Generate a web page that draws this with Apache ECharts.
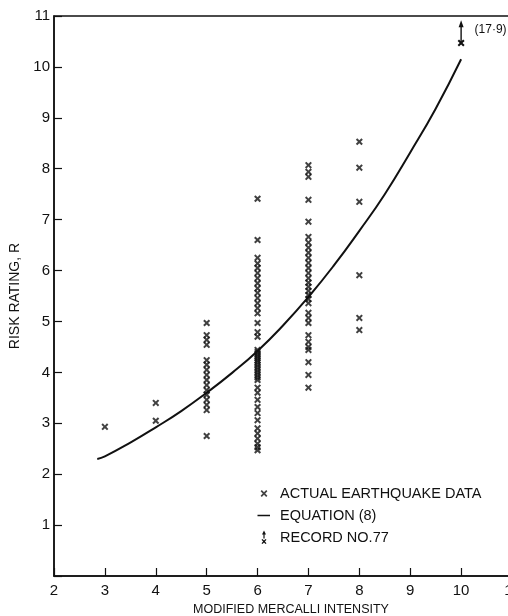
<!DOCTYPE html>
<html>
<head>
<meta charset="utf-8">
<script src="https://cdn.jsdelivr.net/npm/echarts@6/dist/echarts.min.js"></script>
<style>
  html, body { margin: 0; padding: 0; background: #fff; }
  #chart { width: 508px; height: 616px; }
</style>
</head>
<body>
<div id="chart"></div>
<script>
// observed risk ratings per Mercalli intensity
const mmi3 = [2.93];
const mmi4 = [3.4, 3.05];
const mmi5 = [4.97, 4.73, 4.64, 4.54, 4.24, 4.15, 4.05, 3.95, 3.85, 3.75, 3.65, 3.56, 3.46, 3.36, 3.26, 2.75];
const mmi6 = [7.41, 6.6, 6.25, 6.14, 6.05, 5.95, 5.85, 5.75, 5.65, 5.56, 5.46, 5.36, 5.26, 5.16, 4.97, 4.79, 4.7,
  4.44, 4.4, 4.36, 4.32, 4.28, 4.24, 4.2, 4.15, 4.1, 4.05, 4.0, 3.95, 3.9, 3.85,
  3.7, 3.6, 3.46, 3.32, 3.2, 3.06, 2.9, 2.8, 2.7, 2.6, 2.53, 2.47];
const mmi7 = [8.07, 7.94, 7.84, 7.39, 6.96, 6.66, 6.55, 6.45, 6.35, 6.25, 6.15, 6.05, 5.95, 5.85, 5.76,
  5.68, 5.6, 5.52, 5.44, 5.36, 5.17, 5.07, 4.97, 4.73, 4.6, 4.5, 4.44, 4.2, 3.95, 3.7];
const mmi8 = [8.53, 8.02, 7.35, 5.91, 5.07, 4.83];

// equation (8) curve
const eqX = [2.85, 3, 3.5, 4, 4.5, 5, 5.5, 6, 6.5, 7, 7.5, 8, 8.5, 9, 9.5, 10];
const eqR = [2.3, 2.35, 2.62, 2.92, 3.24, 3.6, 3.99, 4.42, 4.92, 5.48, 6.1, 6.78, 7.5, 8.32, 9.18, 10.15];

// record no. 77 (true value 17.9, off scale)
const recordX = 10;
const recordR = 10.47;
const recordArrowTop = 10.85;

const columns = [[3, mmi3], [4, mmi4], [5, mmi5], [6, mmi6], [7, mmi7], [8, mmi8]];
const quakeData = [];
columns.forEach(c => c[1].forEach(r => quakeData.push([c[0], r])));

const crossPath = 'path://M0,2L2,0L5,3L8,0L10,2L7,5L10,8L8,10L5,7L2,10L0,8L3,5Z';
// legend icons padded out to a 14x14 box with tiny corner dots
const pad = 'M0,0L0.01,0L0,0.01ZM14,14L13.99,14L14,13.99Z';
const legendCross = 'path://' + pad + 'M3.6,4.8L4.8,3.6L7,5.8L9.2,3.6L10.4,4.8L8.2,7L10.4,9.2L9.2,10.4L7,8.2L4.8,10.4L3.6,9.2L5.8,7Z';
const legendLine = 'path://' + pad + 'M0.5,6.3L13,6.3L13,7.7L0.5,7.7Z';
const legendRecord = 'path://' + pad + 'M5,4L7,0L9,4L7.6,4L7.6,8L6.4,8L6.4,4ZM4.5,9.3L5.5,8.5L7,10L8.5,8.5L9.5,9.3L7.9,11L9.5,12.7L8.5,13.5L7,12L5.5,13.5L4.5,12.7L6.1,11Z';
const ink = '#111';
const font = 'Liberation Sans';

const chart = echarts.init(document.getElementById('chart'));
chart.setOption({
  animation: false,
  backgroundColor: '#fff',
  grid: {
    left: 54, top: 16, width: 458, height: 560,
    outerBoundsMode: 'none', containLabel: false,
    show: true, borderColor: ink, borderWidth: 1.5
  },
  legend: {
    orient: 'vertical',
    left: 252,
    top: 481,
    itemGap: 7,
    itemWidth: 14,
    itemHeight: 14,
    selectedMode: false,
    textStyle: { color: ink, fontFamily: font, fontSize: 14.5, padding: [0, 0, 0, 4] },
    data: [
      { name: 'ACTUAL EARTHQUAKE DATA', icon: legendCross, itemStyle: { color: ink } },
      { name: 'EQUATION (8)', icon: legendLine, itemStyle: { color: ink } },
      { name: 'RECORD NO.77', icon: legendRecord, itemStyle: { color: ink } }
    ]
  },
  xAxis: {
    type: 'value', min: 2, max: 11, interval: 1,
    name: 'MODIFIED MERCALLI INTENSITY', nameLocation: 'middle', nameGap: 27,
    nameTextStyle: { color: ink, fontFamily: font, fontSize: 12.5, padding: [0, 0, 0, 16] },
    axisLine: { lineStyle: { color: ink, width: 1.5 } },
    axisTick: { inside: true, length: 8, lineStyle: { color: ink, width: 1.2 } },
    axisLabel: { color: ink, fontFamily: font, fontSize: 15, margin: 7, showMaxLabel: true },
    splitLine: { show: false }
  },
  yAxis: {
    type: 'value', min: 0, max: 11, interval: 1,
    name: 'RISK RATING, R', nameLocation: 'middle', nameGap: 27,
    nameTextStyle: { color: ink, fontFamily: font, fontSize: 14 },
    axisLine: { lineStyle: { color: ink, width: 1.5 } },
    axisTick: { inside: true, length: 8, lineStyle: { color: ink, width: 1.2 } },
    axisLabel: { color: ink, fontFamily: font, fontSize: 15, margin: 4, formatter: v => (v === 0 ? '' : v) },
    splitLine: { show: false }
  },
  series: [
    {
      name: 'ACTUAL EARTHQUAKE DATA', type: 'scatter',
      symbol: crossPath, symbolSize: 7,
      itemStyle: { color: ink },
      data: quakeData
    },
    {
      name: 'EQUATION (8)', type: 'line', smooth: true, showSymbol: false,
      lineStyle: { color: ink, width: 2 },
      itemStyle: { color: ink },
      data: eqX.map((x, i) => [x, eqR[i]])
    },
    {
      name: 'RECORD NO.77', type: 'line',
      lineStyle: { color: ink, width: 1.4 },
      itemStyle: { color: ink },
      data: [
        { value: [recordX, recordR], symbol: crossPath, symbolSize: 7 },
        {
          value: [recordX, recordArrowTop], symbol: 'triangle', symbolSize: [5, 7],
          label: { show: true, position: 'right', offset: [6, 6], formatter: '(17·9)', color: ink, fontFamily: font, fontSize: 12 }
        }
      ]
    }
  ]
});
</script>
</body>
</html>
